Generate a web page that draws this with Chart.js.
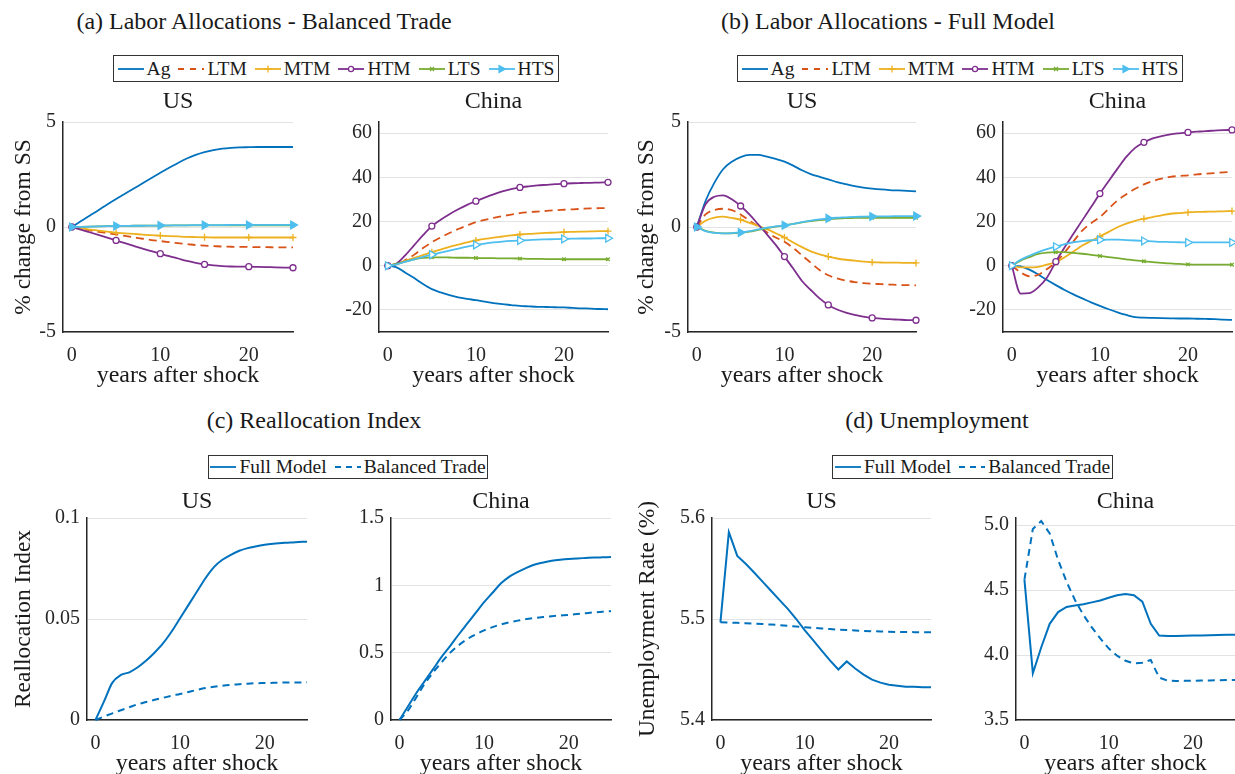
<!DOCTYPE html>
<html>
<head>
<meta charset="utf-8">
<script src="https://cdn.jsdelivr.net/npm/chart.js@4.4.1/dist/chart.umd.min.js"></script>
<style>
  body { margin: 0; width: 1235px; height: 774px; overflow: hidden; background: #fff;
         font-family: "Liberation Serif", serif; color: #1a1a1a; }
  canvas { position: absolute; }
  .ttl { position: absolute; font-size: 24px; line-height: 28px; white-space: nowrap; transform: translateX(-50%); }
  .legend { position: absolute; box-sizing: border-box; border: 1px solid #333; background: #fff;
            display: flex; align-items: center; justify-content: center; font-size: 19.5px; white-space: nowrap; }
  .legend span.item { display: inline-flex; align-items: center; margin: 0 4px; }
  .legend svg { margin-right: 3px; }
</style>
</head>
<body>
<div class="ttl" style="left:264px; top:7px;">(a) Labor Allocations - Balanced Trade</div>
<div class="ttl" style="left:888px; top:7px;">(b) Labor Allocations - Full Model</div>
<div class="ttl" style="left:314px; top:406px;">(c) Reallocation Index</div>
<div class="ttl" style="left:937px; top:406px;">(d) Unemployment</div>
<div class="legend" id="legA" style="left:113px; top:55px; width:446px; height:27px;"></div>
<div class="legend" id="legB" style="left:737px; top:55px; width:446px; height:27px;"></div>
<div class="legend" id="legC" style="left:208px; top:455px; width:280px; height:24px;"></div>
<div class="legend" id="legD" style="left:832px; top:455px; width:281px; height:24px;"></div>

<script>
// years after the shock
const years = [0, 1, 2, 3, 4, 5, 6, 7, 8, 9, 10, 11, 12, 13, 14, 15, 16, 17, 18, 19, 20, 21, 22, 23, 24, 25];
const sectors = ['Ag', 'LTM', 'MTM', 'HTM', 'LTS', 'HTS'];
const xTicks = [0, 10, 20];

// (a) balanced trade, US (% change from SS)
const balUS_Ag  = [0, 0.27, 0.54, 0.8, 1.07, 1.33, 1.58, 1.83, 2.08, 2.33, 2.58, 2.82, 3.05, 3.26, 3.43, 3.56, 3.66, 3.73, 3.77, 3.79, 3.8, 3.81, 3.81, 3.81, 3.81, 3.81];
const balUS_LTM = [0, -0.08, -0.16, -0.23, -0.29, -0.35, -0.42, -0.49, -0.56, -0.62, -0.67, -0.72, -0.77, -0.81, -0.86, -0.89, -0.91, -0.93, -0.94, -0.95, -0.95, -0.96, -0.96, -0.97, -0.97, -0.97];
const balUS_MTM = [0, -0.06, -0.12, -0.17, -0.22, -0.27, -0.3, -0.33, -0.36, -0.39, -0.41, -0.43, -0.45, -0.47, -0.48, -0.49, -0.5, -0.5, -0.5, -0.5, -0.5, -0.5, -0.5, -0.5, -0.5, -0.5];
const balUS_HTM = [0, -0.12, -0.25, -0.38, -0.51, -0.64, -0.77, -0.9, -1.03, -1.15, -1.27, -1.39, -1.5, -1.61, -1.71, -1.78, -1.83, -1.86, -1.88, -1.89, -1.89, -1.9, -1.91, -1.92, -1.93, -1.94];
const balUS_LTS = [0, 0.01, 0.02, 0.03, 0.04, 0.05, 0.05, 0.06, 0.06, 0.07, 0.07, 0.07, 0.08, 0.08, 0.08, 0.08, 0.08, 0.08, 0.08, 0.08, 0.08, 0.08, 0.08, 0.08, 0.08, 0.08];
const balUS_HTS = [0, 0.01, 0.02, 0.03, 0.04, 0.05, 0.05, 0.06, 0.06, 0.07, 0.07, 0.08, 0.08, 0.08, 0.09, 0.09, 0.09, 0.09, 0.1, 0.1, 0.1, 0.1, 0.1, 0.1, 0.1, 0.1];

// (a) balanced trade, China
const balCN_Ag  = [0, -0.8, -3.2, -5.6, -8.3, -10.6, -12.1, -13.3, -14.3, -15.0, -15.6, -16.3, -16.9, -17.4, -17.8, -18.2, -18.4, -18.6, -18.7, -18.8, -18.9, -19.1, -19.3, -19.4, -19.6, -19.7];
const balCN_LTM = [0, 0.5, 2.5, 5.0, 8.0, 10.6, 12.8, 14.8, 16.6, 18.2, 19.7, 20.7, 21.6, 22.4, 23.1, 23.8, 24.2, 24.5, 24.8, 25.1, 25.3, 25.5, 25.7, 25.9, 26.0, 26.1];
const balCN_MTM = [0, 0.8, 2.2, 3.5, 4.8, 6.1, 7.3, 8.5, 9.5, 10.5, 11.4, 12.1, 12.7, 13.2, 13.7, 14.1, 14.4, 14.6, 14.8, 15.0, 15.2, 15.3, 15.4, 15.5, 15.6, 15.6];
const balCN_HTM = [0, 1.0, 4.8, 9.3, 13.8, 17.9, 20.8, 23.3, 25.5, 27.5, 29.2, 30.8, 32.3, 33.6, 34.6, 35.4, 35.9, 36.3, 36.6, 36.9, 37.1, 37.3, 37.4, 37.5, 37.6, 37.7];
const balCN_LTS = [0, 0.8, 1.8, 2.8, 3.5, 3.8, 3.8, 3.7, 3.6, 3.6, 3.5, 3.4, 3.4, 3.3, 3.3, 3.2, 3.1, 3.1, 3.0, 3.0, 2.9, 2.9, 2.9, 2.9, 2.9, 2.9];
const balCN_HTS = [0, 0.6, 1.8, 2.9, 4.0, 5.0, 5.9, 6.8, 7.7, 8.6, 9.4, 10.0, 10.5, 10.9, 11.2, 11.4, 11.6, 11.8, 11.9, 12.0, 12.1, 12.2, 12.3, 12.3, 12.4, 12.4];

// (b) full model, US
const fullUS_Ag  = [0, 1.24, 2.1, 2.75, 3.11, 3.33, 3.43, 3.43, 3.35, 3.24, 3.11, 2.92, 2.7, 2.52, 2.39, 2.27, 2.14, 2.04, 1.95, 1.88, 1.83, 1.79, 1.76, 1.74, 1.72, 1.70];
const fullUS_LTM = [0, 0.6, 0.81, 0.87, 0.8, 0.6, 0.3, 0.03, -0.25, -0.5, -0.7, -1.0, -1.35, -1.7, -2.05, -2.3, -2.45, -2.55, -2.62, -2.67, -2.7, -2.72, -2.74, -2.76, -2.77, -2.78];
const fullUS_MTM = [0, 0.3, 0.45, 0.49, 0.43, 0.35, 0.2, 0.06, -0.1, -0.3, -0.5, -0.74, -0.96, -1.16, -1.3, -1.41, -1.5, -1.56, -1.6, -1.65, -1.68, -1.69, -1.7, -1.7, -1.71, -1.71];
const fullUS_HTM = [0, 1.08, 1.44, 1.51, 1.32, 1.0, 0.6, 0.13, -0.35, -0.85, -1.41, -1.98, -2.57, -3.0, -3.4, -3.71, -3.93, -4.08, -4.18, -4.27, -4.33, -4.36, -4.39, -4.41, -4.43, -4.44];
const fullUS_LTS = [0, -0.18, -0.27, -0.3, -0.3, -0.27, -0.22, -0.14, -0.06, 0.02, 0.08, 0.15, 0.22, 0.28, 0.33, 0.37, 0.4, 0.42, 0.43, 0.44, 0.44, 0.44, 0.44, 0.44, 0.44, 0.44];
const fullUS_HTS = [0, -0.2, -0.28, -0.3, -0.29, -0.26, -0.2, -0.11, -0.03, 0.03, 0.08, 0.15, 0.23, 0.3, 0.36, 0.41, 0.44, 0.46, 0.48, 0.49, 0.5, 0.51, 0.51, 0.52, 0.52, 0.52];

// (b) full model, China
const fullCN_Ag  = [0, -0.3, -1.8, -4.0, -6.5, -8.8, -11.0, -13.0, -14.8, -16.6, -18.2, -19.7, -21.1, -22.3, -23.3, -23.5, -23.6, -23.7, -23.8, -23.9, -23.9, -24.0, -24.1, -24.2, -24.4, -24.5];
const fullCN_LTM = [0, -3.0, -4.8, -4.1, -1.5, 1.5, 6.0, 11.0, 15.9, 19.2, 22.0, 25.8, 29.5, 32.3, 34.8, 36.8, 38.3, 39.4, 40.2, 40.6, 40.9, 41.3, 41.6, 41.9, 42.2, 42.4];
const fullCN_MTM = [0, -0.8, -0.8, -0.5, 0.5, 1.5, 3.8, 6.4, 9.1, 11.2, 13.2, 15.3, 17.4, 19.0, 20.3, 21.2, 22.0, 22.8, 23.5, 23.8, 24.1, 24.3, 24.4, 24.5, 24.6, 24.7];
const fullCN_HTM = [0, -12.6, -12.4, -9.8, -5.3, 1.8, 8.3, 14.4, 20.5, 26.5, 32.6, 38.3, 43.9, 49.2, 53.3, 55.8, 57.6, 58.6, 59.4, 59.9, 60.3, 60.6, 60.9, 61.1, 61.3, 61.4];
const fullCN_LTS = [0, 2.3, 3.9, 5.3, 5.9, 6.1, 6.1, 5.8, 5.4, 4.9, 4.4, 3.9, 3.4, 2.9, 2.4, 2.0, 1.6, 1.3, 1.0, 0.8, 0.6, 0.5, 0.5, 0.45, 0.45, 0.45];
const fullCN_HTS = [0, 2.7, 4.5, 6.1, 7.5, 8.6, 9.7, 10.6, 11.1, 11.5, 11.7, 11.8, 11.8, 11.6, 11.4, 11.2, 11.0, 10.8, 10.7, 10.6, 10.5, 10.5, 10.5, 10.5, 10.5, 10.5];

// (c) reallocation index
const reallocUS_Full = [0, 0.0091, 0.0185, 0.0223, 0.0236, 0.0261, 0.0294, 0.0334, 0.038, 0.0438, 0.0504, 0.057, 0.0636, 0.0702, 0.0757, 0.0793, 0.0818, 0.0838, 0.0851, 0.086, 0.0868, 0.0873, 0.0876, 0.0879, 0.0881, 0.0883];
const reallocUS_Bal  = [0, 0.0017, 0.0033, 0.0048, 0.0063, 0.0078, 0.0089, 0.01, 0.011, 0.012, 0.0129, 0.0139, 0.0149, 0.0158, 0.0165, 0.017, 0.0174, 0.0177, 0.018, 0.0182, 0.0183, 0.0184, 0.0185, 0.0186, 0.0186, 0.0187];
const reallocCN_Full = [0, 0.1, 0.2, 0.29, 0.38, 0.47, 0.55, 0.635, 0.715, 0.795, 0.875, 0.945, 1.015, 1.065, 1.1, 1.13, 1.155, 1.17, 1.182, 1.19, 1.196, 1.2, 1.203, 1.206, 1.208, 1.21];
const reallocCN_Bal  = [0, 0.07, 0.17, 0.27, 0.355, 0.43, 0.5, 0.555, 0.6, 0.635, 0.665, 0.69, 0.71, 0.725, 0.738, 0.75, 0.758, 0.765, 0.771, 0.776, 0.781, 0.787, 0.793, 0.799, 0.804, 0.809];

// (d) unemployment rate (%)
const unempUS_Full = [5.4967, 5.586, 5.5625, 5.5547, 5.546, 5.537, 5.528, 5.519, 5.51, 5.5, 5.489, 5.479, 5.469, 5.459, 5.45, 5.458, 5.451, 5.445, 5.44, 5.437, 5.435, 5.434, 5.433, 5.433, 5.4325, 5.4324];
const unempUS_Bal  = [5.4967, 5.4965, 5.4962, 5.4958, 5.4954, 5.495, 5.4945, 5.494, 5.4933, 5.4925, 5.4918, 5.4912, 5.4906, 5.49, 5.4895, 5.489, 5.4886, 5.4882, 5.4879, 5.4876, 5.4874, 5.4872, 5.4871, 5.487, 5.4869, 5.4868];
const unempCN_Full = [4.58, 3.86, 4.06, 4.24, 4.33, 4.37, 4.38, 4.39, 4.405, 4.42, 4.44, 4.46, 4.47, 4.46, 4.41, 4.24, 4.15, 4.146, 4.147, 4.148, 4.15, 4.151, 4.152, 4.154, 4.155, 4.156];
const unempCN_Bal  = [4.58, 4.97, 5.03, 4.936, 4.731, 4.564, 4.423, 4.308, 4.213, 4.128, 4.051, 3.995, 3.956, 3.936, 3.941, 3.962, 3.826, 3.803, 3.8, 3.801, 3.802, 3.803, 3.804, 3.806, 3.807, 3.808];

// y tick labels per panel
const yTicksAllocUS = [-5, 0, 5];
const yTicksAllocCN = [-20, 0, 20, 40, 60];
const yTicksReallocUS = [0, 0.05, 0.1];
const yTicksReallocCN = [0, 0.5, 1, 1.5];
const yTicksUnempUS = [5.4, 5.5, 5.6];
const yTicksUnempCN = [3.5, 4.0, 4.5, 5.0];

const FONT = 'Liberation Serif';
const INK = '#262626';
const GRID = '#e3e3e3';
const BLUE = '#0072BD';

Chart.defaults.font.family = FONT;
Chart.defaults.font.weight = 'normal';

const serif = size => ({ family: FONT, size: size, weight: 'normal', style: 'normal' });

const sectorStyle = {
  Ag:  { color: '#0072BD' },
  LTM: { color: '#D95319', dash: [8, 5] },
  MTM: { color: '#EDB120', marker: 'cross', size: 3.5 },
  HTM: { color: '#7E2F8E', marker: 'circle', size: 3 },
  LTS: { color: '#77AC30', marker: 'crossRot', size: 2.5 },
  HTS: { color: '#4DBEEE', marker: 'triangle', size: 4.5, rot: 90 }
};

function sectorSets(series, openTriangles) {
  return sectors.map((name, i) => {
    const s = sectorStyle[name];
    const filled = name === 'HTS' && !openTriangles;
    return {
      label: name,
      data: years.map((x, k) => ({ x: x, y: series[i][k] })),
      borderColor: s.color,
      borderWidth: 1.8,
      borderDash: s.dash || [],
      cubicInterpolationMode: 'monotone',
      pointStyle: s.marker || 'circle',
      pointRadius: ctx => (s.marker && ctx.dataIndex % 5 === 0) ? s.size : 0,
      pointRotation: s.rot || 0,
      pointBorderColor: s.color,
      pointBackgroundColor: filled ? s.color : '#fff',
      pointBorderWidth: 1.3,
      order: sectors.length - i,
      clip: false
    };
  });
}

function modelSets(full, bal, smooth) {
  const mk = (label, vals, dash, order) => ({
    label: label,
    data: years.map((x, k) => ({ x: x, y: vals[k] })),
    borderColor: BLUE, borderWidth: 2, borderDash: dash,
    cubicInterpolationMode: smooth ? 'monotone' : 'default',
    pointRadius: 0, order: order, clip: false
  });
  return [mk('Full Model', full, [], 1), mk('Balanced Trade', bal, [7, 5], 2)];
}

// panel geometry: L/R/T/B = plot box, cl = canvas left edge, ct = canvas top edge
const panels = [
  { L: 63,   R: 293,  T: 122, B: 332, cl: 5,    ct: 87,  title: 'US',    yMin: -5,  yMax: 5,    yTicks: yTicksAllocUS, yTitle: '% change from SS', yTitleX: 24,
    sets: sectorSets([balUS_Ag, balUS_LTM, balUS_MTM, balUS_HTM, balUS_LTS, balUS_HTS], false) },
  { L: 379,  R: 608,  T: 122, B: 332, cl: 331,  ct: 87,  title: 'China', yMin: -30, yMax: 65,   yTicks: yTicksAllocCN,
    sets: sectorSets([balCN_Ag, balCN_LTM, balCN_MTM, balCN_HTM, balCN_LTS, balCN_HTS], true) },
  { L: 688,  R: 916,  T: 122, B: 332, cl: 628,  ct: 87,  title: 'US',    yMin: -5,  yMax: 5,    yTicks: yTicksAllocUS, yTitle: '% change from SS', yTitleX: 647,
    sets: sectorSets([fullUS_Ag, fullUS_LTM, fullUS_MTM, fullUS_HTM, fullUS_LTS, fullUS_HTS], false) },
  { L: 1003, R: 1232, T: 122, B: 332, cl: 955,  ct: 87,  title: 'China', yMin: -30, yMax: 65,   yTicks: yTicksAllocCN,
    sets: sectorSets([fullCN_Ag, fullCN_LTM, fullCN_MTM, fullCN_HTM, fullCN_LTS, fullCN_HTS], true) },
  { L: 87,   R: 307,  T: 518, B: 720, cl: 5,    ct: 487, title: 'US',    yMin: 0,   yMax: 0.1,  yTicks: yTicksReallocUS, yTitle: 'Reallocation Index', yTitleX: 24,
    sets: modelSets(reallocUS_Full, reallocUS_Bal, true) },
  { L: 391,  R: 611,  T: 518, B: 720, cl: 343,  ct: 487, title: 'China', yMin: 0,   yMax: 1.5,  yTicks: yTicksReallocCN,
    sets: modelSets(reallocCN_Full, reallocCN_Bal, true) },
  { L: 712,  R: 931,  T: 518, B: 720, cl: 628,  ct: 487, title: 'US',    yMin: 5.4, yMax: 5.6,  yTicks: yTicksUnempUS, yTitle: 'Unemployment Rate (%)', yTitleX: 648,
    sets: modelSets(unempUS_Full, unempUS_Bal, false) },
  { L: 1016, R: 1235, T: 518, B: 720, cl: 966,  ct: 487, title: 'China', yMin: 3.5, yMax: 5.054, yTicks: yTicksUnempCN, fixed: 1,
    sets: modelSets(unempCN_Full, unempCN_Bal, false) }
];

const X_BOX = 58;      // height under the plot for tick labels + axis title
const RIGHT_PAD = 12;

panels.forEach(p => {
  const cv = document.createElement('canvas');
  const w = p.R - p.cl + RIGHT_PAD;
  const h = p.B - p.ct + X_BOX;
  cv.width = w; cv.height = h;
  cv.style.left = p.cl + 'px';
  cv.style.top = p.ct + 'px';
  document.body.appendChild(cv);

  const titleLh = 24 * 1.2;
  const yTitleLh = 23.5 * 1.2;

  new Chart(cv, {
    type: 'line',
    data: { datasets: p.sets },
    options: {
      responsive: false,
      animation: false,
      events: [],
      layout: { padding: { top: 0, right: RIGHT_PAD, bottom: 0, left: 0 } },
      plugins: {
        legend: { display: false },
        tooltip: { enabled: false },
        title: {
          display: true, text: p.title, fullSize: false, color: '#1a1a1a',
          font: serif(24),
          padding: { top: 0, bottom: p.T - p.ct - titleLh }
        }
      },
      scales: {
        x: {
          type: 'linear', min: -1, max: 25,
          afterBuildTicks: s => { s.ticks = xTicks.map(v => ({ value: v })); },
          afterFit: s => { s.height = X_BOX; },
          grid: { display: false },
          border: { display: true, color: INK, width: 1.5 },
          ticks: { color: INK, padding: 4, font: serif(20) },
          title: { display: true, text: 'years after shock', color: '#1a1a1a', padding: 0, font: serif(24) }
        },
        y: {
          type: 'linear', min: p.yMin, max: p.yMax,
          afterBuildTicks: s => { s.ticks = p.yTicks.map(v => ({ value: v })); },
          afterFit: s => { s.width = p.L - p.cl; },
          grid: { color: GRID, lineWidth: 1, drawTicks: false },
          border: { display: true, color: INK, width: 1.5 },
          ticks: {
            color: INK, padding: 7, font: serif(20),
            callback: v => p.fixed ? v.toFixed(p.fixed) : String(v)
          },
          title: {
            display: !!p.yTitle, text: p.yTitle || '', color: '#1a1a1a',
            font: serif(23.5),
            padding: { top: p.yTitle ? p.yTitleX - p.cl - yTitleLh / 2 : 0, bottom: 0 }
          }
        }
      }
    }
  });
});

// legends: small line samples drawn with the same styles as the datasets
function sample(color, dash, marker, filled) {
  let m = '';
  if (marker === 'circle') m = `<circle cx="13" cy="6" r="2.6" fill="#fff" stroke="${color}" stroke-width="1.3"/>`;
  if (marker === 'cross') m = `<path d="M13 2.5V9.5M9.5 6H16.5" stroke="${color}" stroke-width="1.3"/>`;
  if (marker === 'crossRot') m = `<path d="M11 4L15 8M15 4L11 8" stroke="${color}" stroke-width="1.3"/>`;
  if (marker === 'triangle') m = `<path d="M10 2.5L16.5 6L10 9.5Z" fill="${filled ? color : '#fff'}" stroke="${color}" stroke-width="1.2"/>`;
  const da = dash && dash.length ? `stroke-dasharray="${dash.join(' ')}"` : '';
  return `<svg width="26" height="12"><line x1="0" y1="6" x2="26" y2="6" stroke="${color}" stroke-width="1.8" ${da}/>${m}</svg>`;
}

function sectorLegend(id) {
  document.getElementById(id).innerHTML = sectors.map(n => {
    const s = sectorStyle[n];
    return `<span class="item">${sample(s.color, s.dash ? [6, 6] : null, s.marker, true)}${n}</span>`;
  }).join('');
}
function modelLegend(id) {
  document.getElementById(id).innerHTML =
    `<span class="item">${sample(BLUE, null)}Full Model</span>` +
    `<span class="item">${sample(BLUE, [6, 5])}Balanced Trade</span>`;
}
sectorLegend('legA');
sectorLegend('legB');
modelLegend('legC');
modelLegend('legD');
</script>
</body>
</html>
